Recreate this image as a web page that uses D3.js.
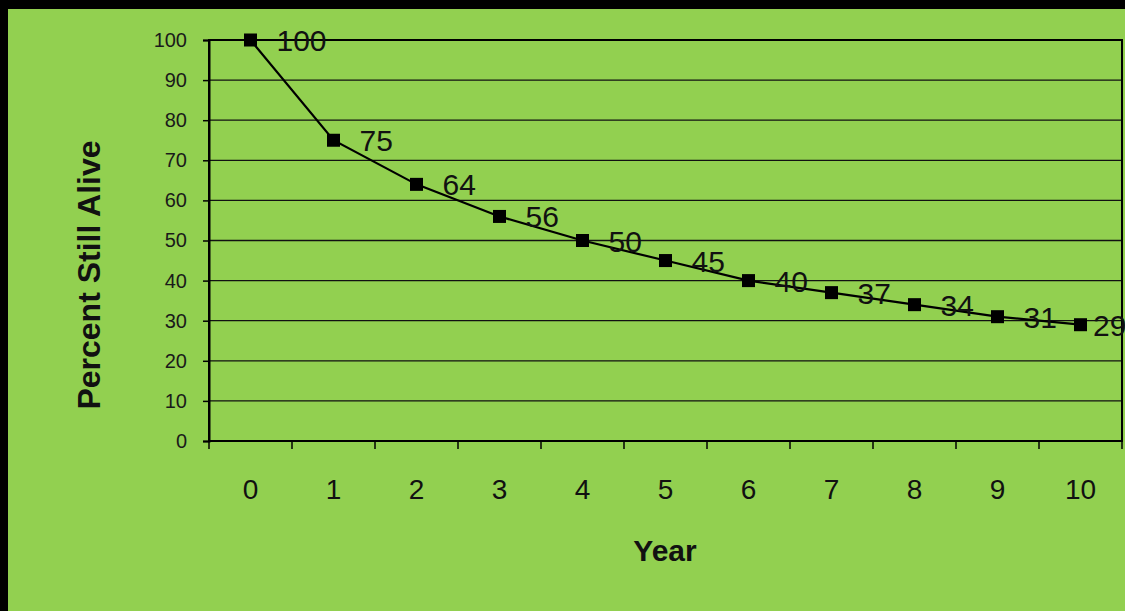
<!DOCTYPE html>
<html>
<head>
<meta charset="utf-8">
<script src="https://cdn.jsdelivr.net/npm/d3@7"></script>
<style>
  html, body { margin: 0; padding: 0; background: #000; }
  svg { display: block; }
</style>
</head>
<body>
<svg id="chart" width="1125" height="611"></svg>
<script>
// Survival over time
const years = ["0", "1", "2", "3", "4", "5", "6", "7", "8", "9", "10"];
const percentAlive = [100, 75, 64, 56, 50, 45, 40, 37, 34, 31, 29];
const yTicks = [0, 10, 20, 30, 40, 50, 60, 70, 80, 90, 100];

const svg = d3.select("#chart");
const W = 1125, H = 611;
const margin = { left: 209, right: 3, top: 40, bottom: 170 };
const innerW = W - margin.left - margin.right;
const innerH = H - margin.top - margin.bottom;
const font = "Liberation Sans, Arial, sans-serif";

// frame: black border on the top and left, green panel
svg.append("rect").attr("width", W).attr("height", H).attr("fill", "#000");
svg.append("rect").attr("x", 8).attr("y", 9).attr("width", W - 8).attr("height", H - 9).attr("fill", "#92D050");

const x = d3.scaleBand().domain(years).range([0, innerW]);
const y = d3.scaleLinear().domain([0, 100]).range([innerH, 0]);

const g = svg.append("g").attr("transform", `translate(${margin.left},${margin.top})`);

// horizontal gridlines
g.append("g").selectAll("line").data(yTicks.filter(d => d > 0)).join("line")
  .attr("x1", 0).attr("x2", innerW)
  .attr("y1", d => y(d)).attr("y2", d => y(d))
  .attr("stroke", "#111").attr("stroke-width", 1.3);

// plot border
g.append("rect").attr("x", 0).attr("y", 0).attr("width", innerW).attr("height", innerH)
  .attr("fill", "none").attr("stroke", "#000").attr("stroke-width", 2);

// y axis
const yAxis = g.append("g").call(d3.axisLeft(y).tickValues(yTicks).tickSize(6).tickPadding(16));
yAxis.select(".domain").attr("stroke", "#000").attr("stroke-width", 2);
yAxis.selectAll(".tick line").attr("stroke", "#000").attr("stroke-width", 1.5);
yAxis.selectAll(".tick text")
  .attr("font-family", font)
  .attr("font-size", 20).attr("fill", "#1a1a1a");

// x axis: ticks at band boundaries, labels at band centres
const bounds = years.map((d, i) => x.step() * i).concat([innerW]);
const xa = g.append("g").attr("transform", `translate(0,${innerH})`);
xa.append("line").attr("x1", 0).attr("x2", innerW).attr("stroke", "#000").attr("stroke-width", 2);
xa.selectAll(".tk").data(bounds).join("line").attr("class", "tk")
  .attr("x1", d => d).attr("x2", d => d).attr("y1", 0).attr("y2", 8)
  .attr("stroke", "#000").attr("stroke-width", 1.5);
xa.selectAll(".lbl").data(years).join("text").attr("class", "lbl")
  .attr("x", d => x(d) + x.bandwidth() / 2).attr("y", 58)
  .attr("text-anchor", "middle")
  .attr("font-family", font)
  .attr("font-size", 28).attr("fill", "#111").text(d => d);

// series line
const cx = (d, i) => x(years[i]) + x.bandwidth() / 2;
g.append("path").datum(percentAlive)
  .attr("d", d3.line().x(cx).y(d => y(d)))
  .attr("fill", "none").attr("stroke", "#000").attr("stroke-width", 2.2);

// square markers
const ms = 13;
g.selectAll(".mk").data(percentAlive).join("rect").attr("class", "mk")
  .attr("x", (d, i) => cx(d, i) - ms / 2).attr("y", d => y(d) - ms / 2)
  .attr("width", ms).attr("height", ms).attr("fill", "#000");

// value labels, pulled back toward the plot edge when they would overrun it
g.selectAll(".val").data(percentAlive).join("text").attr("class", "val")
  .attr("x", (d, i) => Math.min(cx(d, i) + 26, innerW - 29)).attr("y", d => y(d) + 11)
  .attr("font-family", font)
  .attr("font-size", 30).attr("fill", "#111").text(d => d);

// axis titles
svg.append("text").attr("x", 665).attr("y", 561).attr("text-anchor", "middle")
  .attr("font-family", font).attr("font-weight", "bold")
  .attr("font-size", 30).attr("fill", "#111").text("Year");
svg.append("text").attr("transform", "translate(100,275) rotate(-90)").attr("text-anchor", "middle")
  .attr("font-family", font).attr("font-weight", "bold")
  .attr("font-size", 32).attr("fill", "#111").text("Percent Still Alive");
</script>
</body>
</html>
